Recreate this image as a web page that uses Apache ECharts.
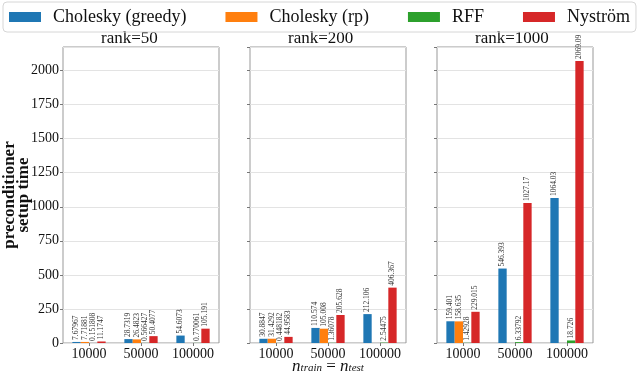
<!DOCTYPE html>
<html>
<head>
<meta charset="utf-8">
<script src="https://cdn.jsdelivr.net/npm/echarts@6/dist/echarts.min.js"></script>
<style>
  html, body { margin: 0; padding: 0; background: #fff; }
  #chart { width: 640px; height: 374px; }
</style>
</head>
<body>
<div id="chart"></div>
<script>
// n_train = n_test
const categories = ['10000', '50000', '100000']
const ranks = ['rank=50', 'rank=200', 'rank=1000']

// one row per rank panel, one value per category (null = not run)
const cholGreedy = [
  [7.67967, 28.7319, 54.6073],
  [30.8847, 110.574, 212.106],
  [159.401, 546.393, 1064.03]
]
const cholRp = [
  [7.71881, 26.4823, null],
  [31.4292, 105.008, null],
  [158.635, null, null]
]
const rff = [
  [0.151808, 0.566427, 0.770061],
  [0.448182, 1.36078, 2.54475],
  [1.42928, 6.33792, 18.726]
]
const nystrom = [
  [11.1747, 50.4077, 105.191],
  [44.9583, 205.628, 406.367],
  [229.015, 1027.17, 2069.09]
]

const yTicks = [0, 250, 500, 750, 1000, 1250, 1500, 1750, 2000]
const yMax = 2172.5

const names = ['Cholesky (greedy)', 'Cholesky (rp)', 'RFF', 'Nyström']
const colors = ['#1f77b4', '#ff7f0e', '#2ca02c', '#d62728']
const seriesData = [cholGreedy, cholRp, rff, nystrom]

const SERIF = '"Liberation Serif", "DejaVu Serif", serif'
const gridLeft = [63, 250, 437]
const gridW = 156

const chart = echarts.init(document.getElementById('chart'))

const grids = gridLeft.map(l => ({
  left: l,
  width: gridW,
  top: 47,
  bottom: 31,
  outerBoundsMode: 'none',
  containLabel: false,
  show: true,
  borderColor: '#999',
  borderWidth: 1
}))

const xAxes = gridLeft.map((l, k) => ({
  type: 'category',
  gridIndex: k,
  data: categories,
  axisLine: { show: false },
  axisTick: { show: true, alignWithLabel: true, length: 3, lineStyle: { color: '#777' } },
  axisLabel: { interval: 0, fontFamily: SERIF, fontSize: 14, color: '#111', margin: 4 },
  name: k === 1 ? '{i|n}{s|train}{m| = }{i|n}{s|test}' : '',
  nameLocation: 'middle',
  nameGap: 17,
  nameMoveOverlap: false,
  nameTextStyle: {
    rich: {
      i: { fontFamily: SERIF, fontStyle: 'italic', fontSize: 17, color: '#111', lineHeight: 14 },
      m: { fontFamily: SERIF, fontSize: 17, color: '#111', lineHeight: 14 },
      s: { fontFamily: SERIF, fontStyle: 'italic', fontSize: 11, color: '#111', verticalAlign: 'bottom', lineHeight: 14 }
    }
  }
}))

const yAxes = gridLeft.map((l, k) => ({
  type: 'value',
  gridIndex: k,
  min: 0,
  max: yMax,
  interval: 250,
  axisLine: { show: false },
  axisTick: { show: true, length: 3, lineStyle: { color: '#777' } },
  axisLabel: {
    show: k === 0,
    fontFamily: SERIF,
    fontSize: 14,
    color: '#111',
    margin: 4,
    showMaxLabel: false,
    formatter: v => (yTicks.indexOf(v) >= 0 ? String(v) : '')
  },
  splitLine: { show: true, lineStyle: { color: '#e3e3e3', width: 1 } },
  name: k === 0 ? 'preconditioner\nsetup time' : '',
  nameLocation: 'middle',
  nameGap: 32,
  nameMoveOverlap: false,
  nameTextStyle: { fontFamily: SERIF, fontWeight: 'bold', fontSize: 17, lineHeight: 14, color: '#111' }
}))

const series = []
for (let k = 0; k < 3; k++) {
  for (let s = 0; s < 4; s++) {
    series.push({
      name: names[s],
      type: 'bar',
      xAxisIndex: k,
      yAxisIndex: k,
      barWidth: '16%',
      barGap: '0%',
      itemStyle: { color: colors[s] },
      data: seriesData[s][k].map(v => (v === null ? '-' : v)),
      label: {
        show: true,
        position: 'top',
        rotate: 90,
        align: 'left',
        verticalAlign: 'middle',
        distance: 2,
        fontFamily: SERIF,
        fontSize: 7.5,
        color: '#333',
        formatter: p => String(p.value)
      }
    })
  }
}

const titles = ranks.map((t, k) => ({
  type: 'text',
  left: gridLeft[k] + gridW / 2 - 40,
  top: 30,
  style: {
    text: t,
    width: 80,
    align: 'center',
    fontFamily: SERIF,
    fontSize: 17,
    fill: '#111'
  }
}))

chart.setOption({
  animation: false,
  backgroundColor: '#fff',
  legend: {
    data: names,
    left: 3,
    top: 2,
    icon: 'rect',
    itemWidth: 32,
    itemHeight: 10,
    itemGap: 39,
    padding: [6, 6],
    borderColor: '#d6d6d6',
    borderWidth: 1,
    borderRadius: 4,
    textStyle: { fontFamily: SERIF, fontSize: 18, color: '#111', padding: [0, 0, 0, 7] }
  },
  grid: grids,
  xAxis: xAxes,
  yAxis: yAxes,
  series: series,
  graphic: titles
})
</script>
</body>
</html>
